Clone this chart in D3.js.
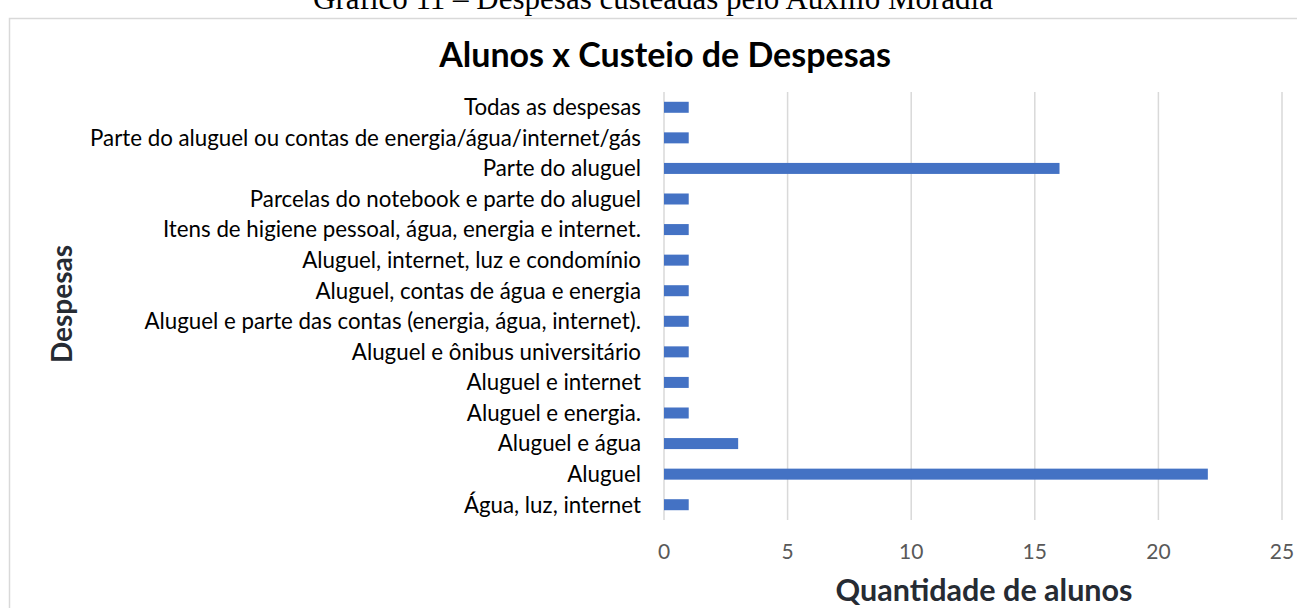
<!DOCTYPE html>
<html>
<head>
<meta charset="utf-8">
<script src="https://cdn.jsdelivr.net/npm/d3@7.9.0/dist/d3.min.js"></script>
<style>
  html, body { margin: 0; padding: 0; background: #fff; overflow: hidden; }
  svg { display: block; }
</style>
</head>
<body>
<svg id="chart" width="1297" height="608"></svg>
<script>
// categories top to bottom as they appear in the chart
const despesas = [
  'Todas as despesas',
  'Parte do aluguel ou contas de energia/água/internet/gás',
  'Parte do aluguel',
  'Parcelas do notebook e parte do aluguel',
  'Itens de higiene pessoal, água, energia e internet.',
  'Aluguel, internet, luz e condomínio',
  'Aluguel, contas de água e energia',
  'Aluguel e parte das contas (energia, água, internet).',
  'Aluguel e ônibus universitário',
  'Aluguel e internet',
  'Aluguel e energia.',
  'Aluguel e água',
  'Aluguel',
  'Água, luz, internet'
];
const alunos = [1, 1, 16, 1, 1, 1, 1, 1, 1, 1, 1, 3, 22, 1];
const xTicks = [0, 5, 10, 15, 20, 25];

const caption = 'Gráfico 11 – Despesas custeadas pelo Auxílio Moradia';
const title = 'Alunos x Custeio de Despesas';
const xTitle = 'Quantidade de alunos';
const yTitle = 'Despesas';

const font = 'Lato, "Open Sans", sans-serif';
const svg = d3.select('#chart');

// document caption, mostly cut off above the chart frame
svg.append('text')
  .attr('x', 653).attr('y', 9)
  .attr('text-anchor', 'middle')
  .attr('font-family', '"Liberation Serif", "Times New Roman", serif')
  .attr('font-size', 31)
  .attr('fill', '#000')
  .text(caption);

// chart frame
svg.append('rect')
  .attr('x', 9.5).attr('y', 18.5)
  .attr('width', 1400).attr('height', 700)
  .attr('fill', '#fff')
  .attr('stroke', '#d9d9d9')
  .attr('stroke-width', 1.5);

const x = d3.scaleLinear().domain([0, 25]).range([664, 1282]);
const y = d3.scaleBand().domain(despesas).range([92, 520]).paddingInner(0.64).paddingOuter(0.32);

// gridlines
svg.append('g')
  .selectAll('line')
  .data(xTicks)
  .join('line')
  .attr('x1', d => x(d)).attr('x2', d => x(d))
  .attr('y1', 92).attr('y2', 520)
  .attr('stroke', '#d9d9d9')
  .attr('stroke-width', 1.5);

// bars
svg.append('g')
  .selectAll('rect')
  .data(despesas)
  .join('rect')
  .attr('x', x(0))
  .attr('y', d => y(d))
  .attr('width', (d, i) => x(alunos[i]) - x(0))
  .attr('height', y.bandwidth())
  .attr('fill', '#4472c4');

// category labels
svg.append('g')
  .selectAll('text')
  .data(despesas)
  .join('text')
  .attr('x', 641)
  .attr('y', d => y(d) + y.bandwidth() / 2)
  .attr('dy', '0.35em')
  .attr('text-anchor', 'end')
  .attr('font-family', font)
  .attr('font-size', 22.3)
  .attr('fill', '#000')
  .text(d => d);

// x tick labels
svg.append('g')
  .selectAll('text')
  .data(xTicks)
  .join('text')
  .attr('x', d => x(d))
  .attr('y', 552)
  .attr('dy', '0.35em')
  .attr('text-anchor', 'middle')
  .attr('font-family', font)
  .attr('font-size', 21)
  .attr('fill', '#595959')
  .text(d => d);

// chart title
svg.append('text')
  .attr('x', 665).attr('y', 67)
  .attr('text-anchor', 'middle')
  .attr('font-family', font)
  .attr('font-weight', 'bold')
  .attr('font-size', 34)
  .attr('fill', '#000')
  .text(title);

// axis titles
svg.append('text')
  .attr('x', 984).attr('y', 601)
  .attr('text-anchor', 'middle')
  .attr('font-family', font)
  .attr('font-weight', 'bold')
  .attr('font-size', 30.5)
  .attr('fill', '#262b33')
  .text(xTitle);

svg.append('text')
  .attr('transform', 'translate(72,304) rotate(-90)')
  .attr('text-anchor', 'middle')
  .attr('font-family', font)
  .attr('font-weight', 'bold')
  .attr('font-size', 28)
  .attr('fill', '#262b33')
  .text(yTitle);
</script>
</body>
</html>
